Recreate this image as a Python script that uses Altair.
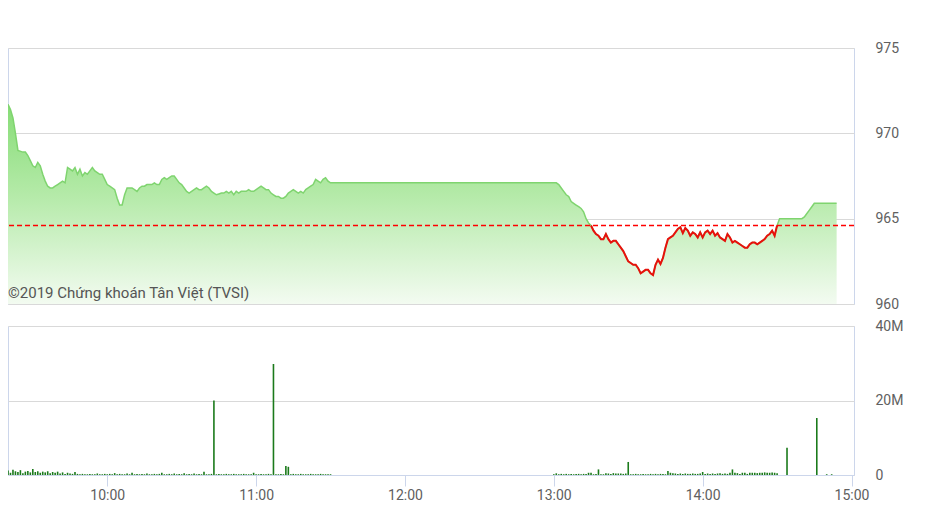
import altair as alt
import pandas as pd

# ---------------- data ----------------
ref_price = 964.6
watermark = "©2019 Chứng khoán Tân Việt (TVSI)"

price_times = [
    "09:20", "09:21", "09:22", "09:23", "09:24", "09:26", "09:27", "09:28", "09:29",
    "09:30", "09:31", "09:32", "09:33", "09:34", "09:35", "09:36", "09:37", "09:38", "09:39",
    "09:40", "09:41", "09:42", "09:43", "09:44", "09:45", "09:46", "09:47", "09:48", "09:49",
    "09:50", "09:51", "09:52", "09:53", "09:54", "09:55", "09:56", "09:57", "09:58", "09:59",
    "10:00", "10:01", "10:02", "10:03", "10:04", "10:05", "10:06", "10:07", "10:08", "10:09",
    "10:10", "10:11", "10:12", "10:13", "10:14", "10:15", "10:16", "10:17", "10:18", "10:19",
    "10:20", "10:21", "10:22", "10:23", "10:24", "10:25", "10:26", "10:27", "10:28", "10:29",
    "10:30", "10:31", "10:32", "10:33", "10:34", "10:35", "10:36", "10:37", "10:38", "10:39",
    "10:40", "10:41", "10:42", "10:43", "10:44", "10:45", "10:46", "10:47", "10:48", "10:49",
    "10:50", "10:51", "10:52", "10:53", "10:54", "10:55", "10:56", "10:57", "10:58", "10:59",
    "11:00", "11:01", "11:02", "11:03", "11:04", "11:05", "11:06", "11:07", "11:08", "11:09",
    "11:10", "11:11", "11:12", "11:13", "11:14", "11:15", "11:16", "11:17", "11:18", "11:19",
    "11:20", "11:21", "11:22", "11:23", "11:24", "11:25", "11:26", "11:27", "11:28", "11:29",
    "11:30",
    "13:00", "13:01", "13:02", "13:03", "13:04", "13:05", "13:06", "13:07", "13:08", "13:09",
    "13:10", "13:11", "13:12", "13:13", "13:14", "13:15", "13:16", "13:17", "13:18", "13:19",
    "13:20", "13:21", "13:22", "13:23", "13:24", "13:25", "13:26", "13:27", "13:28", "13:29",
    "13:30", "13:31", "13:32", "13:33", "13:34", "13:35", "13:36", "13:37", "13:38", "13:39",
    "13:40", "13:41", "13:42", "13:43", "13:44", "13:45", "13:46", "13:47", "13:48", "13:49",
    "13:50", "13:51", "13:52", "13:53", "13:54", "13:55", "13:56", "13:57", "13:58", "13:59",
    "14:00", "14:01", "14:02", "14:03", "14:04", "14:05", "14:06", "14:07", "14:08", "14:09",
    "14:10", "14:11", "14:12", "14:13", "14:14", "14:15", "14:16", "14:17", "14:18", "14:19",
    "14:20", "14:21", "14:22", "14:23", "14:24", "14:25", "14:26", "14:27", "14:28", "14:29",
    "14:30", "14:31", "14:40", "14:41", "14:42", "14:43", "14:44", "14:45", "14:54",
]
price_values = [
    971.7, 971.4, 970.9, 970.0, 969.0, 968.9, 968.9, 968.7, 968.4,
    968.1, 968.0, 968.3, 968.1, 967.6, 967.2, 966.9, 966.8, 966.8, 966.9,
    967.0, 967.1, 967.2, 967.1, 968.0, 967.9, 967.8, 968.0, 967.6, 967.9,
    967.5, 967.7, 967.6, 967.8, 968.0, 967.8, 967.7, 967.6, 967.6, 967.3,
    967.0, 966.9, 966.8, 966.7, 966.2, 965.8, 965.8, 966.4, 966.8, 966.8,
    966.8, 966.7, 966.6, 966.8, 966.9, 966.9, 967.0, 967.0, 967.0, 967.1,
    967.0, 967.0, 967.3, 967.4, 967.3, 967.4, 967.5, 967.5, 967.3, 967.1,
    967.0, 966.8, 966.6, 966.5, 966.6, 966.7, 966.8, 966.7, 966.7, 966.8,
    966.9, 966.8, 966.6, 966.5, 966.4, 966.45, 966.5, 966.5, 966.6, 966.5,
    966.6, 966.4, 966.6, 966.5, 966.6, 966.6, 966.6, 966.7, 966.6, 966.6,
    966.7, 966.8, 966.9, 966.8, 966.7, 966.7, 966.5, 966.4, 966.3, 966.3,
    966.2, 966.2, 966.3, 966.5, 966.6, 966.7, 966.6, 966.5, 966.6, 966.5,
    966.7, 966.8, 966.9, 967.0, 967.3, 967.2, 967.1, 967.3, 967.4, 967.2,
    967.1,
    967.1, 967.1, 967.0, 966.8, 966.6, 966.4, 966.3, 966.0, 965.9, 965.8,
    965.7, 965.6, 965.4, 965.0, 964.75, 964.6, 964.3, 964.1, 964.0, 963.8,
    963.8, 964.1, 963.8, 963.6, 963.7, 963.7, 963.5, 963.3, 963.1, 962.8,
    962.5, 962.4, 962.3, 962.3, 962.1, 961.8, 961.9, 962.0, 962.0, 961.8,
    961.7, 962.3, 962.6, 962.35, 962.7, 963.3, 963.8, 963.9, 964.0, 964.2,
    964.4, 964.5, 964.15, 964.45, 964.3, 964.0, 964.2, 964.1, 963.9, 964.2,
    963.9, 964.2, 964.3, 964.1, 964.3, 964.0, 964.15, 963.9, 963.8, 963.7,
    964.1, 963.9, 963.6, 963.7, 963.6, 963.5, 963.4, 963.3, 963.3, 963.5,
    963.6, 963.6, 963.5, 963.6, 963.7, 963.8, 964.0, 964.1, 964.3, 964.0,
    964.6, 965.0, 965.0, 965.1, 965.3, 965.5, 965.7, 965.9, 965.9,
]

# volume (millions), one bar per minute
vol_morning_start = "09:20"
vol_morning = [
    1.2, 0.6, 1.4, 1.0, 0.8, 1.3, 0.5, 0.9, 1.1, 0.7,
    1.6, 0.8, 1.0, 0.6, 0.9, 0.7, 1.0, 0.5, 0.8, 0.6,
    0.9, 0.4, 0.7, 0.3, 0.6, 0.4, 0.3, 0.8, 0.3, 0.2,
    0.3, 0.2, 0.2, 0.3, 0.2, 0.2, 0.4, 0.2, 0.2, 0.3,
    0.2, 0.3, 0.2, 0.5, 0.2, 0.3, 0.2, 0.2, 0.4, 0.2,
    0.6, 0.2, 0.3, 0.2, 0.3, 0.2, 0.4, 0.2, 0.2, 0.3,
    0.2, 0.3, 0.6, 0.2, 0.2, 0.3, 0.2, 0.4, 0.2, 0.3,
    0.2, 0.5, 0.2, 0.3, 0.2, 0.4, 0.2, 0.3, 0.2, 0.9,
    0.2, 0.2, 0.3, 20.0, 0.2, 0.3, 0.2, 0.2, 0.3, 0.2,
    0.2, 0.3, 0.2, 0.2, 0.2, 0.3, 0.2, 0.2, 0.2, 0.6,
    0.2, 0.2, 0.3, 0.2, 0.2, 0.3, 0.2, 29.8, 0.2, 0.2,
    0.3, 0.2, 2.4, 2.2, 0.2, 0.3, 0.2, 0.2, 0.3, 0.2,
    0.2, 0.2, 0.3, 0.2, 0.2, 0.2, 0.3, 0.2, 0.2, 0.2, 0.2,
]
vol_afternoon_start = "13:00"
vol_afternoon = [
    0.2, 0.45, 0.2, 0.3, 0.2, 0.3, 0.2, 0.3, 0.2, 0.3,
    0.3, 0.2, 0.3, 0.3, 0.6, 0.6, 0.2, 0.3, 1.5, 0.2,
    0.2, 0.5, 0.4, 0.3, 0.5, 0.4, 0.4, 0.4, 0.3, 0.4,
    3.5, 0.2, 0.2, 0.3, 0.2, 0.2, 0.3, 0.2, 0.2, 0.3,
    0.2, 0.3, 0.2, 0.3, 0.3, 0.2, 1.1, 0.6, 0.5, 0.4,
    0.3, 0.4, 0.3, 0.4, 0.3, 0.3, 0.4, 0.3, 0.3, 0.4,
    0.8, 0.3, 0.4, 0.3, 0.4, 0.3, 0.4, 0.5, 0.3, 0.4,
    0.3, 0.6, 1.5, 0.6, 0.5, 0.3, 0.6, 0.6, 0.3, 0.6,
    0.6, 0.6, 0.5, 0.6, 0.6, 0.7, 0.6, 0.6, 0.7, 0.6, 0.5,
]
vol_late_times = ["14:34", "14:46", "14:50", "14:52"]
vol_late = [7.3, 15.3, 0.2, 0.2]

x_ticks = ["10:00", "11:00", "12:00", "13:00", "14:00", "15:00"]
y_price_ticks = [960, 965, 970, 975]
y_vol_ticks = [0, 20, 40]


def to_min(s):
    h, m = s.split(":")
    return int(h) * 60 + int(m)


price_df = pd.DataFrame({"t": [to_min(s) for s in price_times], "price": price_values})
red_df = price_df[price_df["price"] <= ref_price]

vol_t = ([to_min(vol_morning_start) + i for i in range(len(vol_morning))]
         + [to_min(vol_afternoon_start) + i for i in range(len(vol_afternoon))]
         + [to_min(s) for s in vol_late_times])
vol_df = pd.DataFrame({"t": vol_t, "vol": vol_morning + vol_afternoon + vol_late})

# ---------------- chart ----------------
FONT = "Roboto"
LABEL_COLOR = "#606060"
X_DOMAIN = [560.0, 901.0]
PLOT_W = 846
xscale = alt.Scale(domain=X_DOMAIN, nice=False, zero=False, padding=0)
yscale = alt.Scale(domain=[960, 975], nice=False, zero=False)

price_axis = alt.Axis(orient="right", values=y_price_ticks, title=None, grid=True,
                      gridColor="#d9d9d9", domain=False, ticks=False, labelPadding=21,
                      labelFontSize=14, labelFont=FONT, labelColor=LABEL_COLOR)

gradient = alt.Gradient(
    gradient="linear",
    stops=[alt.GradientStop(color="#86dc76", offset=0),
           alt.GradientStop(color="#b4eaa8", offset=0.45),
           alt.GradientStop(color="#f3fbf1", offset=1)],
    x1=1, x2=1, y1=0, y2=1,
)

area = alt.Chart(price_df).mark_area(color=gradient).encode(
    x=alt.X("t:Q", scale=xscale, axis=None),
    y=alt.Y("price:Q", scale=yscale, axis=price_axis),
    y2=alt.datum(960),
)
green_line = alt.Chart(price_df).mark_line(color="#7fd46f", strokeWidth=1.5).encode(
    x=alt.X("t:Q", scale=xscale, axis=None),
    y=alt.Y("price:Q", scale=yscale),
)
red_line = alt.Chart(red_df).mark_line(color="#e8100c", strokeWidth=2).encode(
    x=alt.X("t:Q", scale=xscale, axis=None),
    y=alt.Y("price:Q", scale=yscale),
)
ref_rule = alt.Chart(pd.DataFrame({"ref": [ref_price]})).mark_rule(
    color="#ff0000", stroke="#ff0000", strokeDash=[5, 3], strokeWidth=1.5, opacity=1
).encode(y=alt.Y("ref:Q", scale=yscale))
mark_text = alt.Chart(pd.DataFrame({"label": [watermark]})).mark_text(
    align="left", baseline="alphabetic", fontSize=15, font=FONT, color="#555555"
).encode(text="label:N", x=alt.value(0), y=alt.value(250))

top = alt.layer(area, green_line, red_line, ref_rule, mark_text).properties(width=PLOT_W, height=256)

time_label = "floor(datum.value/60) + ':' + (datum.value % 60 < 10 ? '0' : '') + (datum.value % 60)"
bottom = alt.Chart(vol_df).mark_bar(size=1.6, color="#1b7a1b").encode(
    x=alt.X("t:Q", scale=xscale,
            axis=alt.Axis(values=[to_min(s) for s in x_ticks], labelExpr=time_label, title=None,
                          grid=False, domain=True, domainColor="#ccd6eb", tickColor="#ccd6eb",
                          tickSize=11, labelPadding=2, labelFontSize=14, labelFont=FONT,
                          labelColor=LABEL_COLOR)),
    y=alt.Y("vol:Q", scale=alt.Scale(domain=[0, 40], nice=False),
            axis=alt.Axis(orient="right", values=y_vol_ticks, title=None, grid=True,
                          gridColor="#d9d9d9", domain=False, ticks=False, labelPadding=21,
                          labelExpr="datum.value == 0 ? '0' : datum.value + 'M'",
                          labelFontSize=14, labelFont=FONT, labelColor=LABEL_COLOR)),
).properties(width=PLOT_W, height=149)

chart = alt.vconcat(top, bottom, spacing=22, bounds="flush").properties(
    padding={"left": -4, "top": 32, "right": 0, "bottom": 0}
).configure_view(stroke="#ccd6eb").configure_axis(labelFont=FONT)

chart.save("out.html", embed_options={"renderer": "svg", "actions": False})
